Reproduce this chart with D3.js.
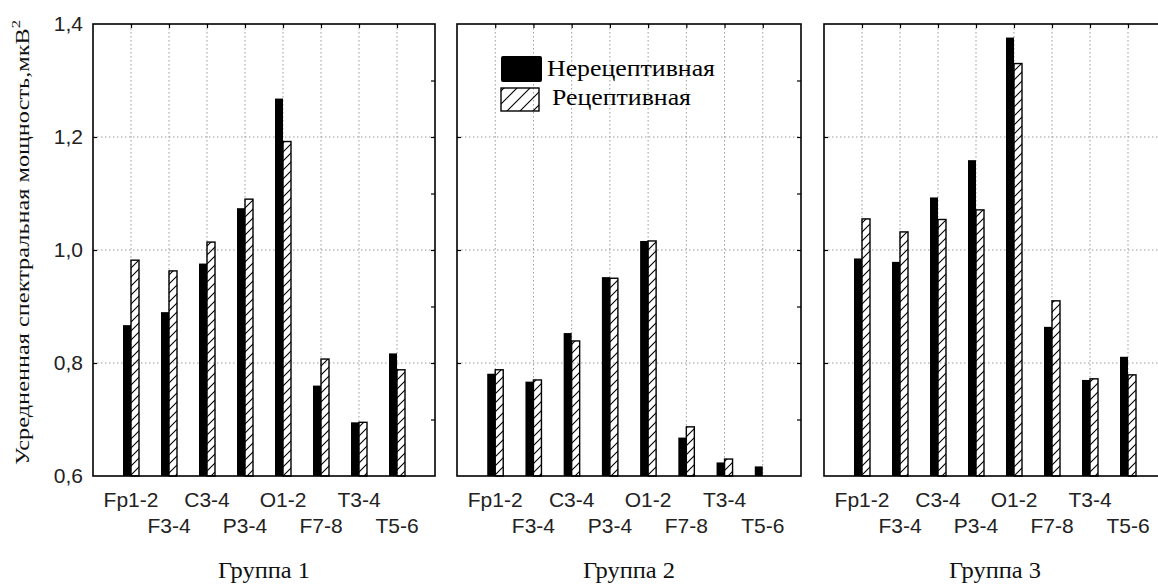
<!DOCTYPE html>
<html>
<head>
<meta charset="utf-8">
<script src="https://cdn.jsdelivr.net/npm/d3@7"></script>
<style>
	body { margin: 0; background: #fff; }
	svg { display: block; }
</style>
</head>
<body>
<div id="chart"></div>
<script>
// channels and groups
const channels = ["Fp1-2", "F3-4", "C3-4", "P3-4", "O1-2", "F7-8", "T3-4", "T5-6"];
const groups = ["Группа 1", "Группа 2", "Группа 3"];
const seriesNames = ["Нерецептивная", "Рецептивная"];

// values (мкВ2)
const nonReceptive1 = [0.867, 0.890, 0.976, 1.074, 1.268, 0.760, 0.695, 0.817];
const receptive1 = [0.982, 0.963, 1.014, 1.090, 1.192, 0.807, 0.695, 0.788];
const nonReceptive2 = [0.781, 0.767, 0.853, 0.952, 1.016, 0.668, 0.624, 0.617];
const receptive2 = [0.788, 0.770, 0.839, 0.950, 1.016, 0.687, 0.630, null];
const nonReceptive3 = [0.985, 0.979, 1.093, 1.159, 1.376, 0.864, 0.770, 0.811];
const receptive3 = [1.055, 1.032, 1.054, 1.071, 1.330, 0.910, 0.772, 0.779];

const yTicks = [0.6, 0.8, 1.0, 1.2, 1.4];
const yMinor = [0.7, 0.8, 0.9, 1.0, 1.1, 1.2, 1.3];
const yGrid = [0.8, 1.0, 1.2];

const panelData = [
	[nonReceptive1, receptive1],
	[nonReceptive2, receptive2],
	[nonReceptive3, receptive3]
];

const width = 1158, height = 585;
const plotTop = 24, plotBottom = 476;
const panelLeft = [93, 457, 824];
const panelWidth = [342, 344, 342];
const barW = 8;

const serif = "'Liberation Serif', 'Times New Roman', serif";
const sans = "'Liberation Sans', Arial, sans-serif";

const fmt = d3.formatLocale({decimal: ",", thousands: " ", grouping: [3], currency: ["", ""]}).format(".1f");

let svg = d3.select("#chart").append("svg")
	.attr("width", width)
	.attr("height", height);

let defs = svg.append("defs");
defs.append("pattern")
	.attr("id", "hatch")
	.attr("patternUnits", "userSpaceOnUse")
	.attr("width", 9).attr("height", 9)
	.append("path")
	.attr("d", "M-2,2 L2,-2 M0,9 L9,0 M7,11 L11,7")
	.attr("stroke", "#000").attr("stroke-width", 1.1);
defs.append("pattern")
	.attr("id", "hatchLegend")
	.attr("patternUnits", "userSpaceOnUse")
	.attr("width", 13).attr("height", 13)
	.append("path")
	.attr("d", "M-2,2 L2,-2 M0,13 L13,0 M11,15 L15,11")
	.attr("stroke", "#000").attr("stroke-width", 1.1);

let yScale = d3.scaleLinear().domain([0.6, 1.4]).range([plotBottom, plotTop]);

panelData.forEach((series, p) => {
	let x0 = panelLeft[p], w = panelWidth[p];
	let xScale = d3.scalePoint().domain(channels).range([0, w]).padding(1);
	let g = svg.append("g").attr("transform", `translate(${x0},0)`);

	// dotted grid
	g.append("g").selectAll("line")
		.data(channels)
		.join("line")
		.attr("x1", d => xScale(d)).attr("x2", d => xScale(d))
		.attr("y1", plotTop).attr("y2", plotBottom)
		.attr("stroke", "#9a9a9a").attr("stroke-dasharray", "1.5,2.5");
	g.append("g").selectAll("line")
		.data(yGrid)
		.join("line")
		.attr("x1", 0).attr("x2", w)
		.attr("y1", d => yScale(d)).attr("y2", d => yScale(d))
		.attr("stroke", "#9a9a9a").attr("stroke-dasharray", "1.5,2.5");

	// bars
	g.append("g").selectAll("rect")
		.data(series[0])
		.join("rect")
		.attr("x", (d, i) => xScale(channels[i]) - barW)
		.attr("y", d => yScale(d))
		.attr("width", barW)
		.attr("height", d => plotBottom - yScale(d))
		.attr("fill", "#000");
	g.append("g").selectAll("rect")
		.data(series[1].map((v, i) => ({v: v, c: channels[i]})).filter(d => d.v != null))
		.join("rect")
		.attr("x", d => xScale(d.c))
		.attr("y", d => yScale(d.v))
		.attr("width", barW)
		.attr("height", d => plotBottom - yScale(d.v))
		.attr("fill", "url(#hatch)")
		.attr("stroke", "#000")
		.attr("stroke-width", 1.4);

	// inward ticks
	g.append("g")
		.attr("transform", `translate(0,${plotTop})`)
		.call(d3.axisBottom(xScale).tickSize(4).tickFormat(""))
		.call(a => a.select(".domain").remove());
	g.append("g")
		.attr("transform", `translate(${w},0)`)
		.call(d3.axisLeft(yScale).tickValues(yMinor).tickSize(4).tickFormat(""))
		.call(a => a.select(".domain").remove());
	g.append("g")
		.call(d3.axisRight(yScale).tickValues(yGrid).tickSize(4).tickFormat(""))
		.call(a => a.select(".domain").remove());
	g.selectAll(".tick line").attr("stroke", "#000").attr("stroke-width", 1.2);

	// frame
	g.append("rect")
		.attr("x", 0).attr("y", plotTop)
		.attr("width", w).attr("height", plotBottom - plotTop)
		.attr("fill", "none")
		.attr("stroke", "#000")
		.attr("stroke-width", 1.6);

	// channel labels in two rows
	g.append("g").selectAll("text")
		.data(channels)
		.join("text")
		.text(d => d)
		.attr("x", d => xScale(d))
		.attr("y", (d, i) => i % 2 == 0 ? 507 : 533)
		.attr("text-anchor", "middle")
		.attr("font-family", sans)
		.attr("font-size", 21)
		.attr("fill", "#222");

	// group name
	g.append("text")
		.text(groups[p])
		.attr("x", w / 2)
		.attr("y", 578)
		.attr("text-anchor", "middle")
		.attr("font-family", serif)
		.attr("font-size", 23)
		.attr("textLength", 92)
		.attr("lengthAdjust", "spacingAndGlyphs")
		.attr("fill", "#111");

	if (p == 0) {
		g.append("g")
			.call(d3.axisLeft(yScale).tickValues(yTicks).tickSize(0).tickPadding(10).tickFormat(fmt))
			.call(a => a.select(".domain").remove())
			.selectAll("text")
			.attr("font-family", sans)
			.attr("font-size", 21)
			.attr("fill", "#222");
	}

	if (p == 1) {
		// legend
		let lg = g.append("g").attr("transform", `translate(${501 - x0},0)`);
		lg.append("rect")
			.attr("x", 0).attr("y", 56)
			.attr("width", 41).attr("height", 26)
			.attr("rx", 2)
			.attr("fill", "#000");
		lg.append("rect")
			.attr("x", 0).attr("y", 88)
			.attr("width", 38).attr("height", 23)
			.attr("fill", "url(#hatchLegend)")
			.attr("stroke", "#000")
			.attr("stroke-width", 1.4);
		lg.append("text")
			.text(seriesNames[0])
			.attr("x", 46).attr("y", 76)
			.attr("font-family", serif)
			.attr("font-size", 24)
			.attr("textLength", 168)
			.attr("lengthAdjust", "spacingAndGlyphs");
		lg.append("text")
			.text(seriesNames[1])
			.attr("x", 51).attr("y", 105)
			.attr("font-family", serif)
			.attr("font-size", 24)
			.attr("textLength", 139)
			.attr("lengthAdjust", "spacingAndGlyphs");
	}
});

// y axis title
let yt = svg.append("text")
	.attr("transform", "translate(29,465) rotate(-90)")
	.attr("font-family", serif)
	.attr("font-size", 19)
	.attr("fill", "#111");
yt.append("tspan").text("Усредненная спектральная мощность,мкВ");
yt.append("tspan").text("2").attr("font-size", 13).attr("dy", -9);
yt.attr("textLength", 445).attr("lengthAdjust", "spacingAndGlyphs");
</script>
</body>
</html>
